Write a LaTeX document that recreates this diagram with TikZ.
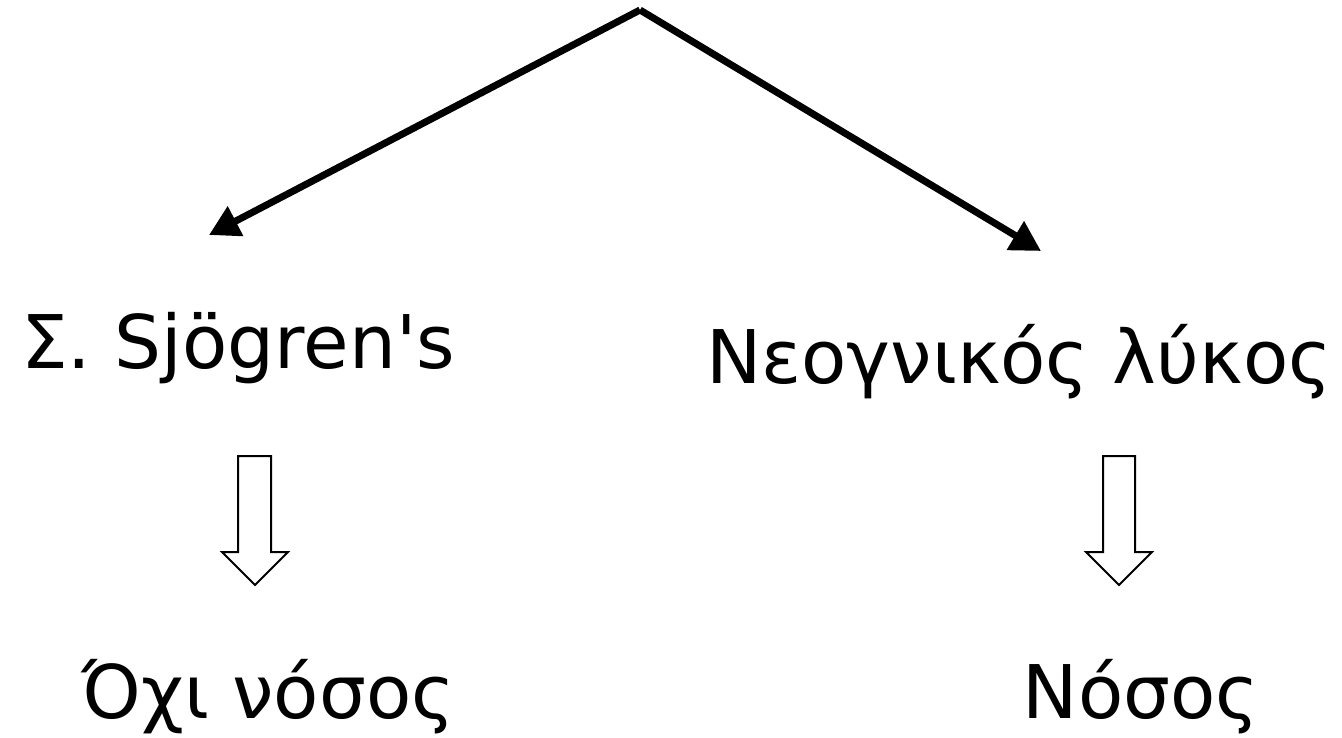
\documentclass[tikz,border=0pt]{standalone}
\usepackage{fontspec}
\setmainfont{DejaVu Sans}
\usetikzlibrary{arrows.meta}
\begin{document}
\begin{tikzpicture}[x=1pt,y=-1pt,
  lbl/.style={inner sep=0pt,anchor=base,font=\fontsize{74}{88}\selectfont},
  thickarrow/.style={line width=7pt,-{Triangle[length=30pt,width=32pt]}},
  hollow/.style={draw,line width=2pt,fill=white,line join=miter}]
\useasboundingbox (0,0) rectangle (1342,737);
\node[lbl] (sj) at (238,368) {Σ. Sjögren\textquotesingle s};
\node[lbl] (nl) at (1019,383) {Νεογνικός λύκος};
\node[lbl] (on) at (268,718) {Όχι νόσος};
\node[lbl] (ns) at (1141,718) {Νόσος};
\coordinate (apex) at (640,10);
\coordinate (lt) at (209,235);
\coordinate (rt) at (1041,251);
\draw[thickarrow] (apex) -- (lt);
\draw[thickarrow] (apex) -- (rt);
\draw[hollow] (238,456) -- (271,456) -- (271,552) -- (288,552) -- (255,585) -- (222,552) -- (238,552) -- cycle;
\draw[hollow] (1103,456) -- (1135,456) -- (1135,552) -- (1152,552) -- (1119,585) -- (1086,552) -- (1103,552) -- cycle;
\end{tikzpicture}
\end{document}
